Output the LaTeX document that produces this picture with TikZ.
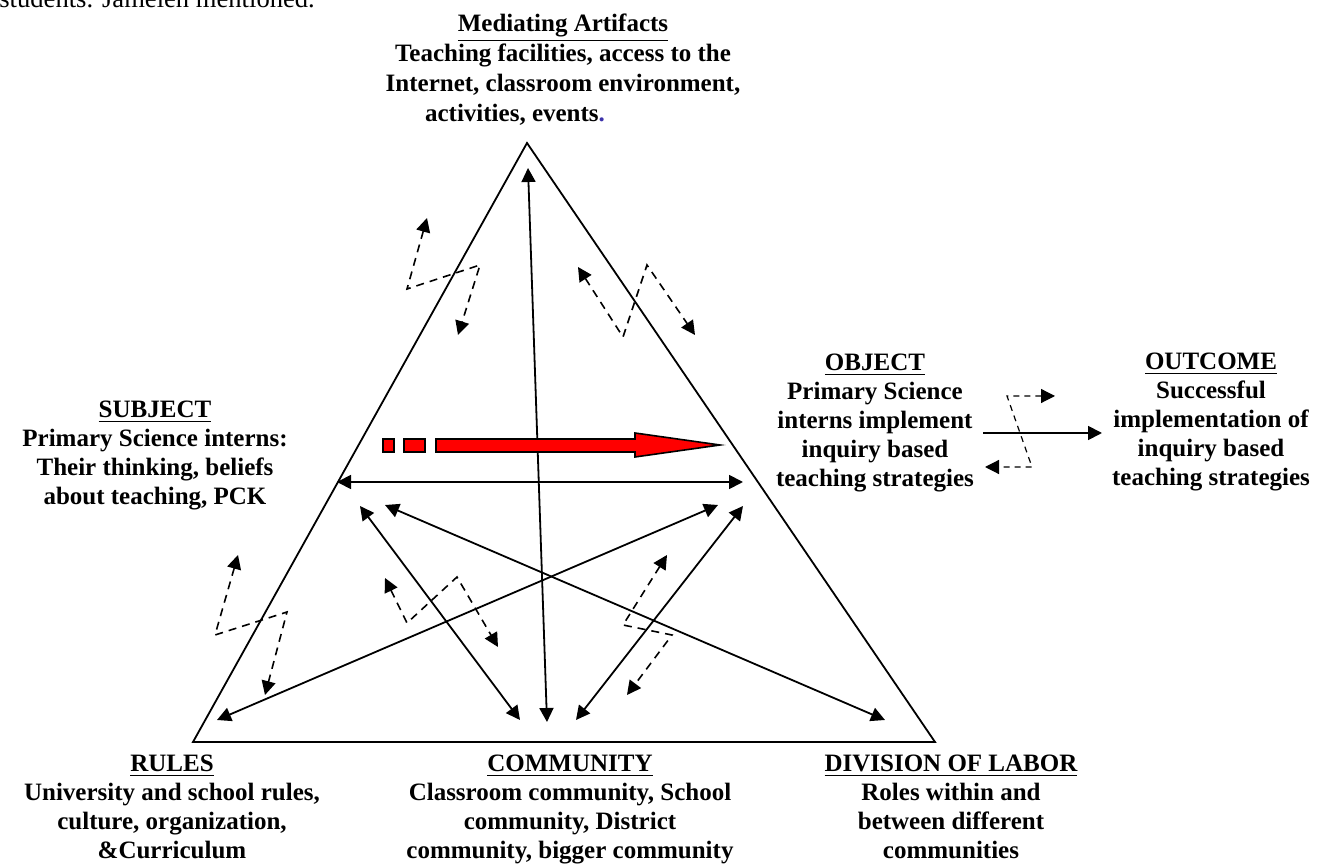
\documentclass[tikz,border=0pt]{standalone}
\usepackage{fontspec}
\setmainfont{Liberation Serif}
\usetikzlibrary{arrows.meta}
\definecolor{dotblue}{RGB}{60,50,170}
\tikzset{
    heading/.style={
        align=center,
        anchor=north,
        font=\fontsize{12.5}{14.5}\selectfont\bfseries,
        inner sep=0pt,
    },
    link/.style={
        {Triangle[length=7pt,width=7pt]}-{Triangle[length=7pt,width=7pt]},
        line width=0.9pt,
    },
    zigzag/.style={
        {Triangle[length=7pt,width=7pt]}-{Triangle[length=7pt,width=7pt]},
        dash pattern=on 4pt off 3pt,
        line width=0.8pt,
    },
    redbar/.style={
        draw,
        fill=red,
        line width=0.8pt,
    }
}

\begin{document}
\begin{tikzpicture}[x=0.5pt,y=-0.5pt]
        \useasboundingbox (0,0) rectangle (1329,865);
        \node[anchor=base west, inner sep=0pt, font=\fontsize{13.3}{16}\selectfont] (intro) at (-1,8) {students. Jamelen mentioned.};
        \node[heading, font=\fontsize{12.5}{15}\selectfont\bfseries] (artifacts) at (563,14) {\underline{Mediating Artifacts}\\
        Teaching facilities, access to the\\
        Internet, classroom environment,\\
        activities, events\textcolor{dotblue}{.}\hspace*{48pt}};
        \node[heading] (subject) at (155,401) {\underline{SUBJECT}\\
        Primary Science interns:\\
        Their thinking, beliefs\\
        about teaching, PCK};
        \node[heading] (object) at (875,354) {\underline{OBJECT}\\
        Primary Science\\
        interns implement\\
        inquiry based\\
        teaching strategies};
        \node[heading] (outcome) at (1211,353) {\underline{OUTCOME}\\
        Successful\\
        implementation of\\
        inquiry based\\
        teaching strategies};
        \node[heading] (rules) at (172,755) {\underline{RULES}\\
        University and school rules,\\
        culture, organization,\\
        \&Curriculum};
        \node[heading] (community) at (570,755) {\underline{COMMUNITY}\\
        Classroom community, School\\
        community, District\\
        community, bigger community};
        \node[heading] (division) at (951,755) {\underline{DIVISION OF LABOR}\\
        Roles within and\\
        between different\\
        communities};
        \coordinate (apex) at (527,143);
        \coordinate (rules-c) at (193,742);
        \coordinate (labor-c) at (935,742);
        \draw[line width=0.9pt] (apex) -- (rules-c) -- (labor-c) -- cycle;
        \coordinate (v1) at (528,168);
        \coordinate (v2) at (547,722);
        \coordinate (h1) at (337,482);
        \coordinate (h2) at (743,482);
        \coordinate (s1) at (385,505);
        \coordinate (s2) at (360,506);
        \coordinate (o1) at (718,505);
        \coordinate (o2) at (743,506);
        \coordinate (r1) at (217,720);
        \coordinate (c1) at (520,720);
        \coordinate (c2) at (576,720);
        \coordinate (d1) at (885,720);
        \coordinate (e1) at (983,433);
        \coordinate (e2) at (1102,433);
        \draw[link] (v1) -- (v2);
        \draw[link] (h1) -- (h2);
        \draw[link] (s1) -- (d1);
        \draw[link] (s2) -- (c1);
        \draw[link] (o1) -- (r1);
        \draw[link] (o2) -- (c2);
        \draw[-{Triangle[length=7pt,width=7pt]}, line width=0.9pt] (e1) -- (e2);
        \draw[redbar] (383,439) rectangle (394,452);
        \draw[redbar] (404,439) rectangle (425,452);
        \draw[redbar] (436,439) -- (635,439) -- (635,433) -- (720,445) -- (635,457) -- (635,452) -- (436,452) -- cycle;
        \draw[zigzag] (427,218) -- (407,289) -- (480,265) -- (458,335);
        \draw[zigzag] (578,267) -- (623,337) -- (647,265) -- (695,335);
        \draw[zigzag] (238,555) -- (215,635) -- (287,612) -- (265,695);
        \draw[zigzag] (385,578) -- (407,623) -- (457,577) -- (498,647);
        \draw[zigzag] (667,555) -- (623,625) -- (672,635) -- (627,695);
        \draw[zigzag, dash pattern=on 3pt off 2.5pt, line width=0.6pt] (1055,396) -- (1007,396) -- (1032,467) -- (985,467);
\end{tikzpicture}
\end{document}
